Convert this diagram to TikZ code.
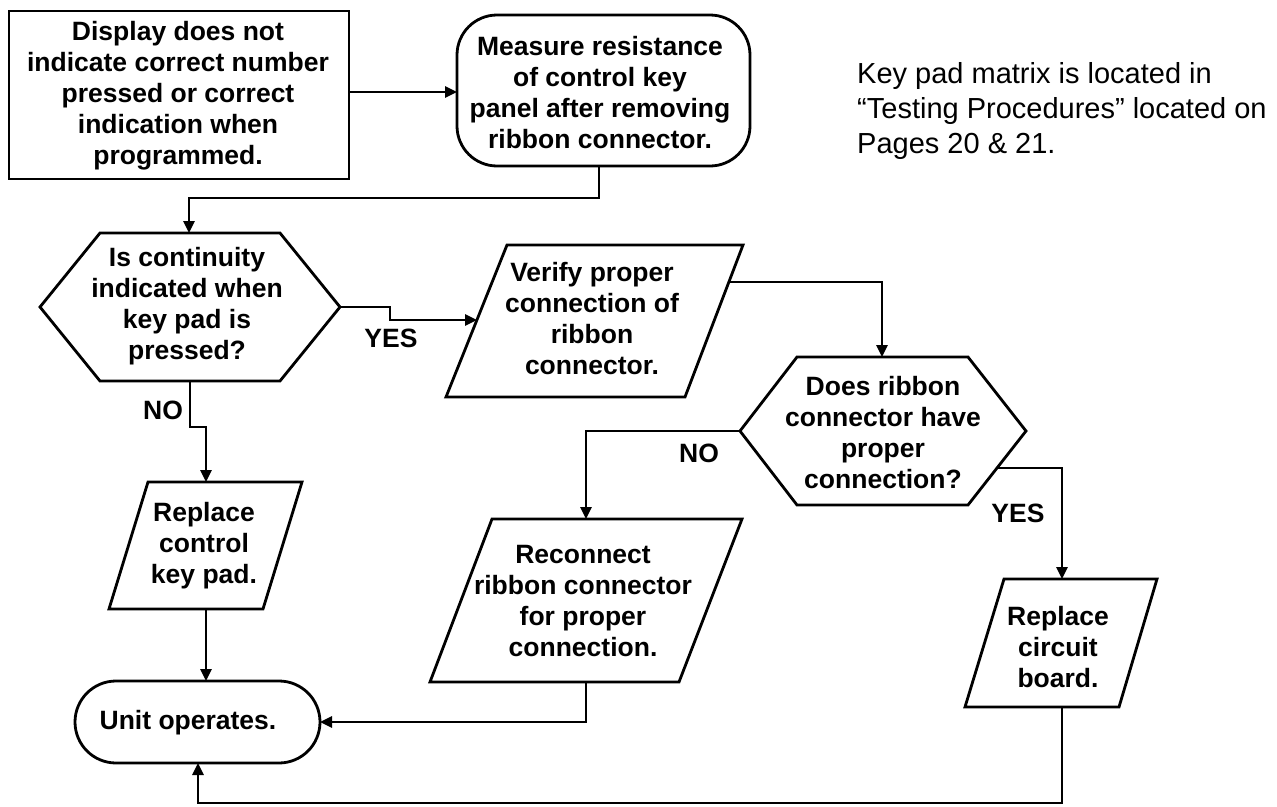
\documentclass[tikz,border=0pt]{standalone}
\usepackage{fontspec}
\setmainfont{Liberation Sans}
\usetikzlibrary{arrows.meta}
\begin{document}
\begin{tikzpicture}[x=1pt,y=-1pt,
  shp/.style={draw=black, line width=2.8pt, line join=miter},
  conn/.style={line width=2.6pt},
  arr/.style={conn, -{Triangle[length=12pt,width=11pt]}},
  txt/.style={font=\fontsize{26.5}{31}\selectfont\bfseries, align=center, inner sep=0pt},
  lbl/.style={font=\fontsize{26.5}{31}\selectfont\bfseries, inner sep=0pt},
]
\useasboundingbox (0,0) rectangle (1277,806);

% Start box
\draw[shp] (9,11) rectangle (349,179);
\node[txt] (display) at (178,96) {Display does not\\indicate correct number\\pressed or correct\\indication when\\programmed.};
\coordinate (displayE) at (349,92);

% Measure
\draw[shp, rounded corners=40pt] (457,15) rectangle (750,166);
\node[txt] (measure) at (600,93) {Measure resistance\\of control key\\panel after removing\\ribbon connector.};
\coordinate (measureW) at (457,92);
\coordinate (measureS) at (599,166);

% Decision 1
\draw[shp] (40,307) -- (100,233) -- (280,233) -- (340,307) -- (280,381) -- (100,381) -- cycle;
\node[txt] (cont) at (187,306) {Is continuity\\indicated when\\key pad is\\pressed?};
\coordinate (hex1N) at (189,233);
\coordinate (hex1E) at (340,307);
\coordinate (hex1S) at (190,381);

% Verify
\draw[shp] (446,397) -- (507,245) -- (743,245) -- (685,397) -- cycle;
\node[txt] (verify) at (592,319) {Verify proper\\connection of\\ribbon\\connector.};
\coordinate (verifyW) at (477,320);
\coordinate (verifyE) at (729,282);

% Decision 2
\draw[shp] (740,431) -- (797,357) -- (968,357) -- (1026,431) -- (968,505) -- (797,505) -- cycle;
\node[txt] (does) at (883,433) {Does ribbon\\connector have\\proper\\connection?};
\coordinate (hex2N) at (882,357);
\coordinate (hex2W) at (740,431);
\coordinate (hex2SE) at (997,468);

% Reconnect
\draw[shp] (430,682) -- (492,519) -- (742,519) -- (679,682) -- cycle;
\node[txt] (recon) at (583,601) {Reconnect\\ribbon connector\\for proper\\connection.};
\coordinate (reconN) at (586,519);
\coordinate (reconS) at (586,682);

% Replace control key pad
\draw[shp] (109,609) -- (148,482) -- (302,482) -- (263,609) -- cycle;
\node[txt] (ctrl) at (204,546) {Replace\\control\\key pad.};
\coordinate (ctrlN) at (206,482);
\coordinate (ctrlS) at (206,609);

% Replace circuit board
\draw[shp] (965,707) -- (1004,579) -- (1157,579) -- (1119,707) -- cycle;
\node[txt] (circ) at (1058,647) {Replace\\circuit\\board.};
\coordinate (circN) at (1062,579);
\coordinate (circS) at (1062,707);

% Unit operates
\draw[shp, rounded corners=41pt] (75,681) rectangle (320,763);
\node[txt] (unit) at (188,723) {Unit operates.};
\coordinate (unitN) at (206,681);
\coordinate (unitE) at (320,722);
\coordinate (unitS) at (198,763);

% Note
\node[anchor=north west, align=left, inner sep=0pt, font=\fontsize{29}{35}\selectfont] (note) at (857,62) {Key pad matrix is located in\\“Testing Procedures” located on\\Pages 20 \& 21.};

% Connectors
\draw[arr] (displayE) -- (measureW);
\draw[arr] (measureS) -- ++(0,32) -| (hex1N);
\draw[arr] (hex1E) -- ++(50,0) |- (verifyW);
\draw[arr] (hex1S) -- ++(0,46) -| (ctrlN);
\draw[arr] (verifyE) -| (hex2N);
\draw[arr] (hex2W) -| (reconN);
\draw[arr] (hex2SE) -| (circN);
\draw[arr] (ctrlS) -- (unitN);
\draw[arr] (reconS) |- (unitE);
\draw[arr] (circS) -- ++(0,96) -| (unitS);

% Labels
\node[lbl] (yes1) at (391,338) {YES};
\node[lbl] (no1) at (163,410) {NO};
\node[lbl] (no2) at (699,453) {NO};
\node[lbl] (yes2) at (1018,513) {YES};
\end{tikzpicture}
\end{document}
